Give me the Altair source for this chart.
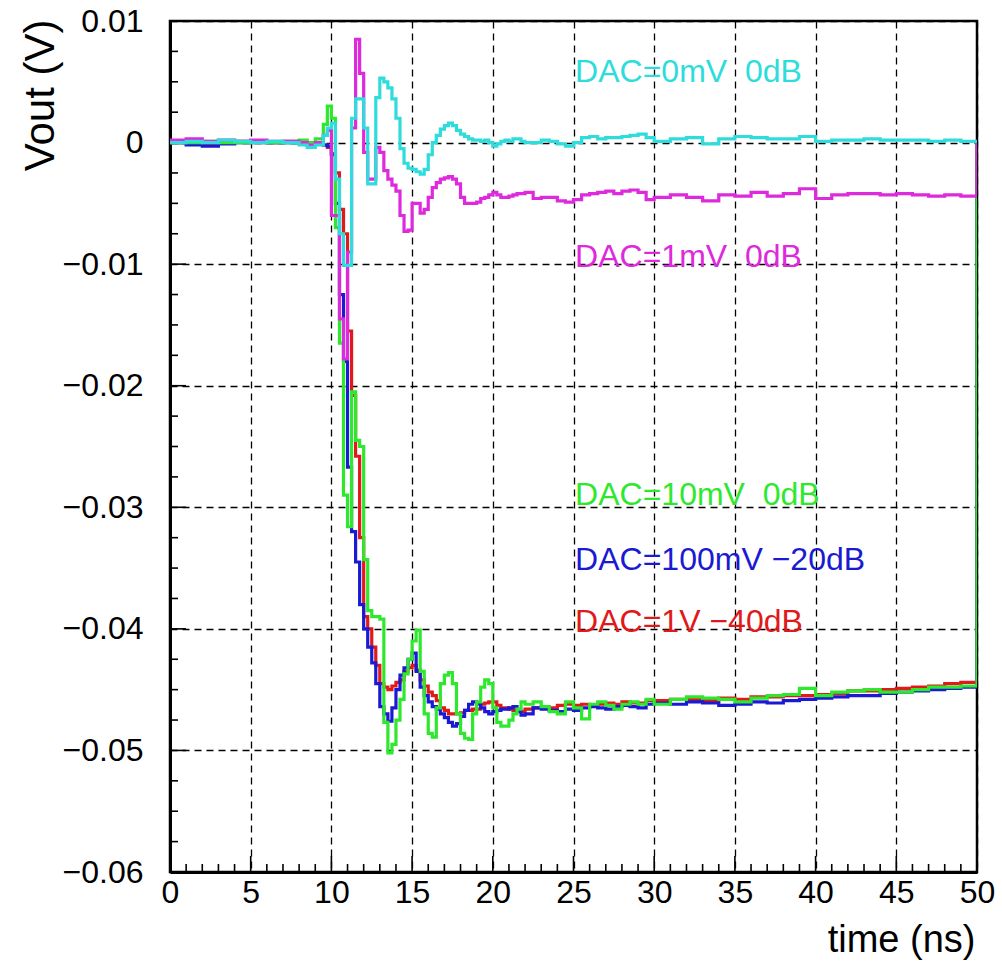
import altair as alt
import pandas as pd

# ---------------- data ----------------
TIME = [0, 1, 2, 3, 4, 5, 6, 7, 8, 8.5, 9, 9.5,
        9.75, 10, 10.25, 10.5, 10.75, 11, 11.25, 11.5, 11.75, 12, 12.25, 12.5,
        12.75, 13, 13.25, 13.5, 13.75, 14, 14.25, 14.5, 14.75, 15, 15.25, 15.5,
        15.75, 16, 16.25, 16.5, 16.75, 17, 17.25, 17.5, 17.75, 18, 18.25, 18.5,
        18.75, 19, 19.25, 19.5, 19.75, 20, 20.25, 20.5, 20.75, 21, 21.25, 21.5,
        21.75, 22,
        22.5, 23, 23.5, 24, 24.5, 25, 25.5, 26, 26.5, 27, 27.5, 28, 28.5, 29, 29.5, 30,
        31, 32, 33, 34, 35, 36, 37, 38, 39, 40, 41, 42, 43, 44, 45, 46, 47, 48, 49, 50]

CYAN_0MV = [0.0000, 0.0001, 0.0000, 0.0002, 0.0001, 0.0000, 0.0001, 0.0000, -0.0002, -0.0004, -0.0002, 0.0006,
            0.0012, 0.0016, -0.0030, -0.0075, -0.0101, -0.0101, 0.0020, 0.0036, 0.0036, 0.0012, -0.0034, -0.0034,
            0.0037, 0.0053, 0.0050, 0.0045, 0.0036, 0.0020, -0.0005, -0.0017, -0.0021, -0.0022, -0.0024, -0.0026,
            -0.0022, -0.0010, 0.0000, 0.0006, 0.0011, 0.0014, 0.0016, 0.0014, 0.0010, 0.0007, 0.0005, 0.0003,
            0.0002, 0.0002, 0.0001, 0.0002, 0.0000, -0.0003, -0.0001, 0.0001, 0.0002, 0.0001, 0.0003, 0.0003,
            0.0001, 0.0000,
            0.0000, 0.0002, 0.0001, -0.0001, -0.0003, 0.0000, 0.0004, 0.0005, 0.0003, 0.0004, 0.0004, 0.0005, 0.0006, 0.0007, 0.0004, 0.0001,
            0.0003, 0.0004, -0.0001, 0.0003, 0.0005, 0.0004, 0.0003, 0.0003, 0.0005, 0.0001, 0.0002, 0.0002, 0.0003, 0.0002, 0.0002, 0.0002, 0.0001, 0.0002, 0.0001, 0.0000]

MAGENTA_1MV = [0.0002, 0.0003, 0.0001, 0.0002, 0.0001, 0.0002, 0.0001, 0.0001, 0.0000, -0.0002, 0.0000, 0.0006,
               0.0010, -0.0060, -0.0060, -0.0145, -0.0178, -0.0090, 0.0012, 0.0085, 0.0057, -0.0008, -0.0030, -0.0030,
               -0.0004, -0.0008, -0.0023, -0.0030, -0.0035, -0.0040, -0.0060, -0.0073, -0.0072, -0.0050, -0.0050, -0.0058,
               -0.0055, -0.0045, -0.0037, -0.0033, -0.0030, -0.0029, -0.0028, -0.0030, -0.0034, -0.0045, -0.0050, -0.0050,
               -0.0050, -0.0049, -0.0046, -0.0045, -0.0043, -0.0041, -0.0043, -0.0045, -0.0045, -0.0044, -0.0043, -0.0042,
               -0.0042, -0.0041,
               -0.0046, -0.0045, -0.0045, -0.0048, -0.0049, -0.0047, -0.0043, -0.0042, -0.0041, -0.0040, -0.0042, -0.0040, -0.0039, -0.0041, -0.0047, -0.0045,
               -0.0043, -0.0045, -0.0048, -0.0043, -0.0044, -0.0041, -0.0044, -0.0042, -0.0038, -0.0046, -0.0043, -0.0042, -0.0042, -0.0043, -0.0042, -0.0043, -0.0044, -0.0043, -0.0044, 0.0000]

GREEN_10MV = [0.0000, 0.0000, 0.0001, 0.0000, 0.0000, 0.0001, 0.0000, 0.0000, 0.0002, 0.0000, 0.0003, 0.0015,
              0.0030, 0.0020, -0.0070, -0.0165, -0.0290, -0.0316, -0.0205, -0.0245, -0.0250, -0.0343, -0.0385, -0.0390,
              -0.0390, -0.0392, -0.0477, -0.0502, -0.0495, -0.0475, -0.0458, -0.0437, -0.0425, -0.0410, -0.0401, -0.0435,
              -0.0470, -0.0486, -0.0489, -0.0465, -0.0445, -0.0438, -0.0436, -0.0445, -0.0470, -0.0486, -0.0490, -0.0491,
              -0.0470, -0.0460, -0.0448, -0.0442, -0.0445, -0.0465, -0.0477, -0.0480, -0.0480, -0.0475, -0.0470, -0.0466,
              -0.0460, -0.0462,
              -0.0460, -0.0464, -0.0468, -0.0470, -0.0460, -0.0465, -0.0474, -0.0462, -0.0460, -0.0463, -0.0466, -0.0462, -0.0460, -0.0462, -0.0458, -0.0462,
              -0.0458, -0.0456, -0.0457, -0.0458, -0.0460, -0.0457, -0.0455, -0.0454, -0.0449, -0.0455, -0.0452, -0.0451, -0.0450, -0.0452, -0.0452, -0.0450, -0.0448, -0.0448, -0.0447, 0.0000]

BLUE_100MV = [0.0000, -0.0002, -0.0003, -0.0001, 0.0000, 0.0001, 0.0000, 0.0000, 0.0000, -0.0002, -0.0001, -0.0002,
              -0.0003, -0.0010, -0.0050, -0.0125, -0.0180, -0.0267, -0.0320, -0.0345, -0.0380, -0.0400, -0.0415, -0.0428,
              -0.0445, -0.0464, -0.0470, -0.0476, -0.0465, -0.0450, -0.0438, -0.0432, -0.0425, -0.0420, -0.0435, -0.0448,
              -0.0455, -0.0460, -0.0464, -0.0466, -0.0470, -0.0473, -0.0477, -0.0480, -0.0478, -0.0472, -0.0467, -0.0462,
              -0.0460, -0.0462, -0.0465, -0.0468, -0.0470, -0.0468, -0.0467, -0.0466, -0.0466, -0.0465, -0.0464, -0.0468,
              -0.0471, -0.0470,
              -0.0465, -0.0466, -0.0467, -0.0468, -0.0466, -0.0467, -0.0465, -0.0464, -0.0465, -0.0466, -0.0464, -0.0463, -0.0464, -0.0465, -0.0462, -0.0461,
              -0.0462, -0.0460, -0.0461, -0.0463, -0.0462, -0.0460, -0.0461, -0.0459, -0.0458, -0.0457, -0.0456, -0.0455, -0.0455, -0.0453, -0.0452, -0.0451, -0.0450, -0.0449, -0.0448, 0.0000]

RED_1V = [0.0000, 0.0000, -0.0001, 0.0000, 0.0001, 0.0000, 0.0000, 0.0001, 0.0000, -0.0001, 0.0000, -0.0002,
          -0.0004, -0.0009, -0.0025, -0.0055, -0.0075, -0.0155, -0.0208, -0.0258, -0.0325, -0.0390, -0.0400, -0.0415,
          -0.0430, -0.0445, -0.0448, -0.0450, -0.0447, -0.0444, -0.0442, -0.0435, -0.0432, -0.0430, -0.0434, -0.0442,
          -0.0447, -0.0452, -0.0455, -0.0459, -0.0465, -0.0467, -0.0470, -0.0470, -0.0470, -0.0469, -0.0467, -0.0467,
          -0.0466, -0.0466, -0.0462, -0.0461, -0.0460, -0.0460, -0.0463, -0.0465, -0.0465, -0.0466, -0.0467, -0.0467,
          -0.0468, -0.0466,
          -0.0465, -0.0464, -0.0465, -0.0463, -0.0462, -0.0463, -0.0462, -0.0463, -0.0462, -0.0461, -0.0462, -0.0460, -0.0461, -0.0461, -0.0459, -0.0459,
          -0.0458, -0.0458, -0.0459, -0.0457, -0.0458, -0.0456, -0.0456, -0.0455, -0.0455, -0.0454, -0.0453, -0.0451, -0.0451, -0.0450, -0.0449, -0.0448, -0.0447, -0.0445, -0.0444, 0.0000]

# drawing order: bottom to top
SERIES_NAMES = ["DAC=1V −40dB", "DAC=100mV −20dB", "DAC=10mV 0dB", "DAC=1mV 0dB", "DAC=0mV 0dB"]
SERIES_VALUES = [RED_1V, BLUE_100MV, GREEN_10MV, MAGENTA_1MV, CYAN_0MV]
SERIES_COLORS = ["#e01a1a", "#1a1ad2", "#2ee82e", "#dc2adc", "#2edcdc"]

# in-plot labels (anchor in data coordinates); \u00a0 keeps the double space
LABEL_TEXT = ["DAC=0mV\u00a0 0dB", "DAC=1mV\u00a0 0dB", "DAC=10mV\u00a0 0dB",
              "DAC=100mV −20dB", "DAC=1V −40dB"]
LABEL_T = [25.1, 25.1, 25.1, 25.1, 25.1]
LABEL_V = [0.0058, -0.0094, -0.0290, -0.0343, -0.0394]
LABEL_COLORS = ["#2edcdc", "#dc2adc", "#2ee82e", "#1a1ad2", "#e01a1a"]

X_MAJOR = [0, 5, 10, 15, 20, 25, 30, 35, 40, 45, 50]
X_MINOR = [1, 2, 3, 4, 6, 7, 8, 9, 11, 12, 13, 14, 16, 17, 18, 19, 21, 22, 23, 24,
           26, 27, 28, 29, 31, 32, 33, 34, 36, 37, 38, 39, 41, 42, 43, 44, 46, 47, 48, 49]
Y_MAJOR = [0.01, 0.0, -0.01, -0.02, -0.03, -0.04, -0.05, -0.06]
Y_MINOR = [0.0075, 0.005, 0.0025, -0.0025, -0.005, -0.0075, -0.0125, -0.015, -0.0175,
           -0.0225, -0.025, -0.0275, -0.0325, -0.035, -0.0375, -0.0425, -0.045, -0.0475,
           -0.0525, -0.055, -0.0575]

# ---------------- chart ----------------
W, H = 807, 851
FONT = "Liberation Sans"

xscale = alt.Scale(domain=[0, 50], nice=False, zero=False)
yscale = alt.Scale(domain=[-0.06, 0.01], nice=False, zero=False)

X_AXIS = alt.Axis(values=X_MAJOR, title="time (ns)", grid=True, gridColor="black",
                  gridDash=[7, 5], gridWidth=1.3, gridOpacity=1, ticks=False, tickSize=0,
                  domain=True, domainColor="black", domainWidth=3,
                  labelFont=FONT, labelFontSize=32, labelColor="black", labelPadding=5,
                  labelFlush=False, labelOverlap=False,
                  titleFont=FONT, titleFontSize=38, titleFontWeight="normal", titleColor="black",
                  titleAlign="right", titleBaseline="middle", titleX=W - 2, titleY=68, titleAngle=0)
Y_AXIS = alt.Axis(values=Y_MAJOR, title="Vout (V)", grid=True, gridColor="black",
                  gridDash=[7, 5], gridWidth=1.3, gridOpacity=1, ticks=False, tickSize=0,
                  domain=True, domainColor="black", domainWidth=3,
                  labelFont=FONT, labelFontSize=32, labelColor="black", labelPadding=27,
                  labelFlush=False, labelOverlap=False,
                  labelExpr="datum.value == 0 ? '0' : format(datum.value, '.2f')",
                  titleFont=FONT, titleFontSize=42, titleFontWeight="normal", titleColor="black",
                  titleAngle=270, titleAlign="right", titleBaseline="middle", titleX=-130, titleY=-2)

layers = []

# ticks pointing into the plot
ymaj = pd.DataFrame({"v": Y_MAJOR})
ymin = pd.DataFrame({"v": Y_MINOR})
xmaj = pd.DataFrame({"t": X_MAJOR})
xmin = pd.DataFrame({"t": X_MINOR})
layers.append(alt.Chart(ymaj).mark_rule(color="black", strokeWidth=1.6).encode(
    y=alt.Y("v:Q", scale=yscale, axis=Y_AXIS), x=alt.value(0), x2=alt.value(16)))
layers.append(alt.Chart(ymin).mark_rule(color="black", strokeWidth=1.6).encode(
    y=alt.Y("v:Q", scale=yscale, axis=Y_AXIS), x=alt.value(0), x2=alt.value(8)))
layers.append(alt.Chart(xmaj).mark_rule(color="black", strokeWidth=1.6).encode(
    x=alt.X("t:Q", scale=xscale, axis=X_AXIS), y=alt.value(H), y2=alt.value(H - 16)))
layers.append(alt.Chart(xmin).mark_rule(color="black", strokeWidth=1.6).encode(
    x=alt.X("t:Q", scale=xscale, axis=X_AXIS), y=alt.value(H), y2=alt.value(H - 8)))

for name, vals, col in zip(SERIES_NAMES, SERIES_VALUES, SERIES_COLORS):
    df = pd.DataFrame({"t": TIME, "v": vals})
    layers.append(
        alt.Chart(df).mark_line(color=col, strokeWidth=3.2, interpolate="step-after", clip=True).encode(
            x=alt.X("t:Q", scale=xscale, axis=X_AXIS),
            y=alt.Y("v:Q", scale=yscale, axis=Y_AXIS),
        )
    )

labels = pd.DataFrame({"text": LABEL_TEXT, "t": LABEL_T, "v": LABEL_V, "color": LABEL_COLORS})
layers.append(
    alt.Chart(labels).mark_text(align="left", baseline="middle", font=FONT, fontSize=32).encode(
        x=alt.X("t:Q", scale=xscale, axis=X_AXIS),
        y=alt.Y("v:Q", scale=yscale, axis=Y_AXIS),
        text="text:N",
        color=alt.Color("color:N", scale=None),
    )
)

chart = alt.layer(*layers).properties(
    width=W, height=H,
    autosize=alt.AutoSizeParams(type="none"),
    padding={"left": 170, "top": 21, "right": 25, "bottom": 92},
    background="white",
).configure_view(stroke="black", strokeWidth=2.5)

chart.save("out.html", embed_options={"renderer": "svg", "actions": False})
